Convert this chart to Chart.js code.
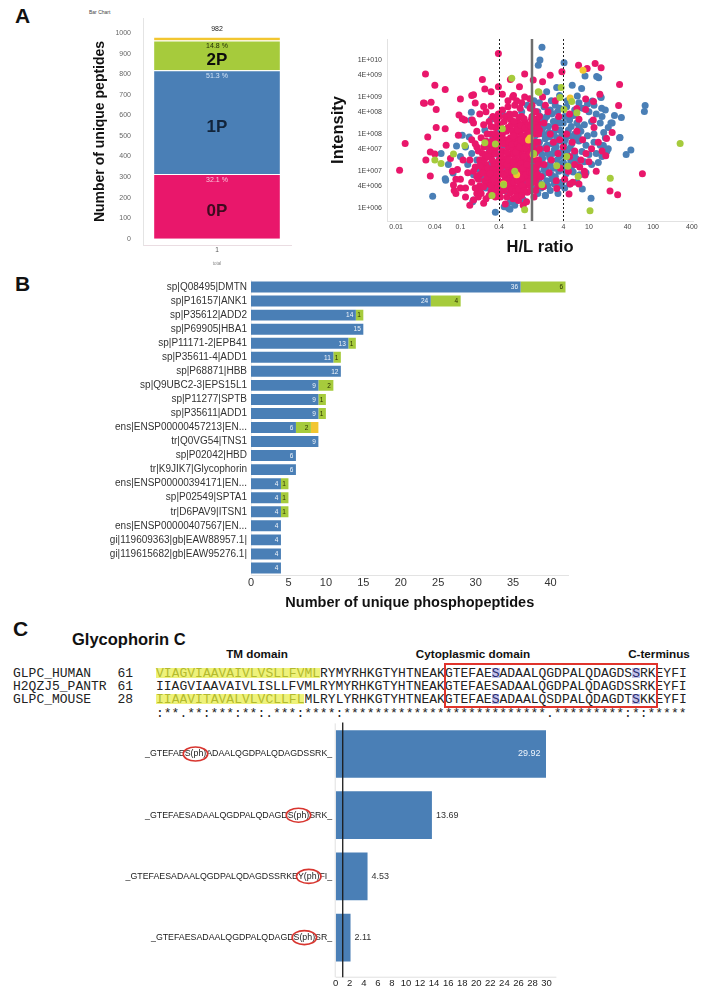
<!DOCTYPE html>
<html>
<head>
<meta charset="utf-8">
<script src="https://cdn.jsdelivr.net/npm/chart.js@4.4.0/dist/chart.umd.min.js"></script>
<style>
  body { margin: 0; width: 708px; height: 1001px; background: #fff; position: relative; overflow: hidden;
         font-family: "Liberation Sans", Arial, Helvetica, sans-serif; color: #111; }
  .abs { position: absolute; }
  canvas { display: block; position: absolute; }
  .panel { font-weight: bold; font-size: 21px; }
  .aln { font-family: "Liberation Mono", "Courier New", monospace; font-size: 13px; line-height: 13.3px; white-space: pre; color: #222; }
  .tm { color: #b3ba2e; background: linear-gradient(to bottom, transparent 2px, #eef27a 2px, #eef27a 12.5px, transparent 12.5px); }
  .site { color: #27286a; background: linear-gradient(to bottom, transparent 2px, #c3c3ea 2px, #c3c3ea 12.5px, transparent 12.5px); }
  .dom { font-weight: bold; font-size: 11.7px; transform: translateX(-50%); white-space: nowrap; }
</style>
</head>
<body>

<div class="abs panel" style="left:15px;top:4px">A</div>
<div class="abs panel" style="left:15px;top:272px">B</div>
<div class="abs panel" style="left:13px;top:617px">C</div>
<div class="abs" style="left:89px;top:9px;font-size:5px;color:#444">Bar Chart</div>

<canvas id="peptideBar" width="215" height="270" style="left:88px;top:0"></canvas>
<canvas id="ratioScatter" width="383" height="250" style="left:325px;top:20px"></canvas>
<canvas id="proteinBar" width="590" height="350" style="left:0;top:270px"></canvas>

<div class="abs" style="left:72px;top:630px;font-weight:bold;font-size:16.5px">Glycophorin C</div>
<div class="abs dom" style="left:257px;top:647px">TM domain</div>
<div class="abs dom" style="left:473px;top:647px">Cytoplasmic domain</div>
<div class="abs dom" style="left:659px;top:647px">C-terminus</div>
<div id="alignment"></div>
<div class="abs" style="left:444px;top:663px;width:214px;height:45px;border:2.5px solid #e0342c;box-sizing:border-box"></div>

<canvas id="siteBar" width="600" height="286" style="left:0;top:715px"></canvas>

<script>
// ---------- A: phospho-state counts ----------
const phosCats = ['0P', '1P', '2P', '3P'];
const phosCounts = [315, 504, 145, 18];
const phosPct = ['32.1 %', '51.3 %', '14.8 %', ''];
const totalPeptides = 982;
const countTicks = [0, 100, 200, 300, 400, 500, 600, 700, 800, 900, 1000];

// ---------- A: H/L ratio vs intensity ----------
const pinkPts = [
  [0.39,1.5e10],[0.0286,4.2e9],[0.04,2.1e9],[0.058,1.6e9],[0.0275,6.8e8],[0.035,7.2e8],[0.042,4.6e8],[0.1,8.9e8],
  [0.15,1.1e9],[0.22,3e9],[0.24,1.65e9],[0.3,1.4e9],[0.39,1.9e9],[0.6,3e9],[0.83,1.9e9],[1,4.2e9],[0.67,1.1e9],
  [1.36,2.9e9],[0.16,1.15e9],[0.17,6.9e8],[0.23,5.6e8],[0.3,5.7e8],[0.095,3.3e8],[0.117,2.4e8],[0.153,2.4e8],
  [0.107,2.6e8],[0.0266,6.9e8],[0.042,1.5e8],[0.058,1.4e8],[0.031,8.3e7],[0.0138,5.6e7],[0.0113,1.05e7],
  [0.034,3.3e7],[0.04,2.9e7],[0.029,2e7],[0.034,7.4e6],[0.093,9.3e7],[0.078,4.2e6],[0.085,2.5e6],[0.16,1.65e6],
  [0.23,1.35e6],[0.53,2e6],[1.07,1.5e6],
  [0.5,3e8],[0.6,2.5e8],[0.7,3.5e8],[0.8,2e8],[0.9,3e8],[1.0,2.2e8],[0.55,1.5e8],[0.65,1.2e8],[0.75,1.6e8],
  [0.85,1.1e8],[0.95,1.4e8],[1.1,1.2e8],[0.45,1e8],[0.5,7e7],[0.6,8e7],[0.7,6e7],[0.8,7.5e7],[0.9,5.5e7],
  [1.05,6.5e7],[1.2,8e7],[0.4,6e7],[0.35,4e7],[0.45,3.5e7],[0.55,4.5e7],[0.65,3.8e7],[0.75,4.2e7],[0.85,3.2e7],
  [0.95,4e7],[1.1,3.5e7],[1.3,4.5e7],[0.3,2.5e7],[0.4,2e7],[0.5,2.2e7],[0.6,1.8e7],[0.7,2.4e7],[0.8,1.9e7],
  [0.9,2.1e7],[1.0,1.7e7],[1.15,2.3e7],[0.25,1.5e7],[0.35,1.2e7],[0.45,1.4e7],[0.55,1.1e7],[0.65,1.3e7],
  [0.75,1e7],[0.85,1.2e7],[0.95,9e6],[1.1,1.1e7],[1.3,1.3e7],[0.2,8e6],[0.3,7e6],[0.4,8.5e6],[0.5,6.5e6],
  [0.6,7.5e6],[0.7,6e6],[0.8,7e6],[0.9,5.5e6],[1.05,6.5e6],[1.25,7e6],[0.15,5e6],[0.25,4.5e6],[0.35,4e6],
  [0.45,5e6],[0.55,3.8e6],[0.65,4.3e6],[0.75,3.5e6],[0.85,4.5e6],[1.0,3.8e6],[1.2,4.2e6],[0.2,3e6],[0.3,2.8e6],
  [0.4,2.5e6],[0.6,2.6e6],[0.8,2.4e6],[1.1,2.7e6],[0.12,3.5e6],[0.1,6e6],[0.13,9e6],[0.17,1.3e7],[0.2,2e7],
  [0.22,3e7],[0.18,4.5e7],[0.15,7e7],[0.25,6.5e7],[0.3,1e8],[0.35,1.5e8],[0.28,2.2e8],[0.4,3e8],[0.45,4.5e8],
  [0.55,5.5e8],[0.7,6e8],[0.85,5e8],[0.38,2e8],[0.09,1.1e7],[0.11,2e7],[0.08,3e6],[0.14,2e7],[0.65,9e6],
  [0.72,1.5e7],[0.58,2.8e7],[0.48,1.7e7],[0.42,1.05e7],[0.52,9e6],[0.62,5.5e6],[0.68,3e7],[0.78,2.8e7],
  [0.88,8.5e6],[0.98,1.4e7],[1.4,2e7],[1.5,9e6],[1.45,3e7],[0.06,5e7],[0.07,2.2e7],[0.075,1e7],[0.085,6e6],
  [0.1,3.5e6],[0.12,2e6],[0.14,1.2e6],[0.45,1.2e9],[0.55,8e8],[0.65,1e9],[0.75,8e8],[0.9,7e8],[1.0,1e9],
  [1.2,9e8],[1.3,6e8],[1.5,4e8],[1.6,2e8],[1.4,1e8],[1.6,6e7],[1.5,1.2e7],[1.6,4e6],[1.4,2e6],[0.8,1.6e6],
  [0.95,1.2e6],[0.5,1.3e6],[0.42,2e6],
  [0.42,1.6e8],[0.48,2.2e8],[0.52,1.2e8],[0.58,3.5e8],[0.62,1.8e8],[0.68,2.2e8],[0.72,1e8],[0.78,1.3e8],
  [0.82,2.8e8],[0.88,1.7e8],[0.92,9e7],[0.98,2.6e8],[1.02,1.5e8],[1.08,9e7],[1.15,1.8e8],[1.22,1.1e8],
  [1.28,2.5e8],[0.38,9e7],[0.43,7.5e7],[0.47,5.5e7],[0.53,3.2e7],[0.57,6e7],[0.63,5.2e7],[0.67,9e7],
  [0.73,3.3e7],[0.77,5.5e7],[0.83,4.5e7],[0.87,7e7],[0.93,2.7e7],[0.97,6e7],[1.03,4.2e7],[1.12,5.5e7],
  [1.18,2.8e7],[1.25,2e7],[0.33,3e7],[0.37,1.7e7],[0.43,2.6e7],[0.47,8e6],[0.53,1.5e7],[0.57,2e7],[0.63,9.5e6],
  [0.67,1.7e7],[0.73,8e6],[0.77,1.4e7],[0.83,9e6],[0.87,1.6e7],[0.93,1.2e7],[0.97,2.5e7],[1.03,8e6],
  [1.08,1.5e7],[1.2,9.5e6],[0.28,5e6],[0.33,9e6],[0.38,6e6],[0.43,4e6],[0.48,3e6],[0.53,5.5e6],[0.58,4.8e6],
  [0.63,3.2e6],[0.68,5e6],[0.72,2.8e6],[0.78,5.8e6],[0.82,3.2e6],[0.88,6.5e6],[0.92,4e6],[0.98,3e6],
  [1.15,5e6],[1.25,3e6],[0.26,1e7],[0.22,1.2e7],[0.19,6e6],[0.27,3e7],[0.32,5e7],[0.24,2.2e7],[0.2,4e6],
  [0.18,2.5e6],[0.35,2e6],[0.66,1.8e6],[0.74,2e6],[0.9,2.2e6],
  [0.16,2e8],[0.18,1.2e8],[0.2,3.5e8],[0.21,8e7],[0.23,1.8e8],[0.25,4e8],[0.26,1e8],[0.28,5.5e7],[0.3,1.6e8],
  [0.32,3e8],[0.34,7e7],[0.36,2.5e8],[0.38,4.5e7],[0.17,5.5e7],[0.19,3.5e7],[0.21,1.6e7],[0.23,4.5e7],
  [0.25,2.6e7],[0.27,1.2e7],[0.29,3.8e7],[0.31,6.5e7],[0.33,1.5e7],[0.35,3e7],[0.37,8e6],[0.39,1.4e7],
  [0.16,1e7],[0.18,7e6],[0.2,1.4e7],[0.22,9e6],[0.24,5.5e6],[0.26,7e6],[0.28,2.2e6],[0.3,4e6],[0.32,1.1e7],
  [0.34,3e6],[0.36,5e6],[0.38,3.5e6],[0.17,3.5e6],[0.19,2e6],[0.21,2.5e6],[0.23,3.8e6],[0.25,1.8e6],
  [0.27,2.5e7],[0.29,8.5e6],[0.31,2e7],[0.33,6e6],[0.35,1e8],[0.37,6e7],[0.39,3.5e8],
  [1.22,5e8],[1.3,3e8],[1.38,1.5e8],[1.45,6e7],[1.55,2.5e8],[1.65,1e8],[1.25,1.6e8],[1.35,5e7],[1.45,1.8e8],
  [1.55,3.5e7],[1.65,2e7],[1.3,2.5e7],[1.4,1.2e7],[1.5,6e6],[1.6,1.5e7],[1.28,9e6],[1.38,5e6],[1.48,3e6],
  [1.58,8e6],[1.7,1.3e8],[1.7,4e7],
  [6.9,7.2e9],[9.4,5.9e9],[12.5,8.1e9],[15.5,6.2e9],[3.8,4.8e9],[2.5,3.9e9],[1.9,2.6e9],[30,2.2e9],[14.8,1.2e9],
  [8.9,8.9e8],[29,5.9e8],[6.5,4.9e8],[11.7,2.4e8],[18.8,7.6e7],[18.3,2.6e7],[68,8.5e6],[21.3,2.9e6],[28,2.3e6],
  [4.9,2.4e6],[7.2,1.3e7],[8.7,7.8e6],[3.16,3.4e6],[1.95,3.8e6],[23,1.1e8],[5.1,4.5e6],[8.9,4.6e8],[11.8,7.6e8],
  [1.6,1.5e8],[2,2e8],[2.5,1e8],[3,1.5e8],[3.5,7e7],[4.5,1e8],[5.5,6e7],[6.5,1.2e8],[8,7e7],[2.2,4e7],[2.8,6e7],
  [3.3,3e7],[4,4.5e7],[5,2.5e7],[6,3.5e7],[7.5,2e7],[9,3e7],[2,1.5e7],[2.6,2e7],[3.6,1.2e7],[4.8,1e7],[6,1.5e7],
  [1.8,7e6],[2.4,9e6],[3.1,5.5e6],[4.2,6e6],[5.6,5e6],[1.7,3e8],[2.3,4e8],[3.4,3e8],[5,3.5e8],[7,2.5e8],
  [12,1.5e8],[14,6e7],[11,4e7],[10,1.8e7],[13,1e7],[8.5,1e7],[7,4.5e6],[16,3.5e7],[2.1,6e8],[1.9,1e9],[3,8e8]
];
const bluePts = [
  [1.86,2.2e10],[1.73,1e10],[1.63,7.2e9],[4.1,8.5e9],[8.7,3.7e9],[14.2,3.3e9],[13.2,3.6e9],[5.5,2.1e9],[3.15,1.8e9],
  [2.2,1.4e9],[6.6,1.07e9],[7.7,1.7e9],[11.3,7.8e8],[15.3,1e9],[75,5.9e8],[73,4.1e8],[22,2e8],[25,3.2e8],[32,2.8e8],
  [30,8e7],[45,3.7e7],[38,2.8e7],[7.9,3.3e6],[10.8,1.85e6],[2.1,2.2e6],[0.35,7.8e5],[0.59,9.3e5],[0.48,1.1e6],
  [0.037,2.1e6],[0.059,5.7e6],[0.155,1.5e6],[0.087,4.8e7],[0.05,3e7],[0.148,3.9e8],[0.107,9.3e7],[0.137,8.4e7],
  [0.146,2.4e8],[0.058,6.2e6],[0.065,1.5e7],[0.077,8.9e6],[0.16,1.65e6],[0.56,1e6],[15.5,9.8e8],[15.8,5e8],
  [16.8,4.9e7],[19,3.4e7],[23,2e8],[30.5,8.1e7],
  [1.3,5e8],[1.6,4e8],[2,5.5e8],[2.5,4.5e8],[3,6e8],[3.5,5e8],[4.5,5.5e8],[6,4.5e8],[8,5e8],[10,4e8],[13,3.5e8],
  [1.4,2.5e8],[1.8,2e8],[2.2,3e8],[2.8,2.2e8],[3.3,2.6e8],[4,2e8],[5,2.4e8],[6.5,2e8],[8.5,1.8e8],[11,2.2e8],
  [15,2e8],[1.5,1.2e8],[1.9,1.4e8],[2.4,1.1e8],[3,1.3e8],[3.8,1e8],[4.8,1.3e8],[6,1e8],[7.5,1.2e8],[9.5,9e7],
  [12,1e8],[17,1.1e8],[1.3,7e7],[1.7,6e7],[2.1,7.5e7],[2.7,5.5e7],[3.4,6.5e7],[4.3,7e7],[5.4,5.5e7],[7,6.5e7],
  [9,5e7],[12,6e7],[15,5e7],[1.4,3.5e7],[1.8,4e7],[2.3,3e7],[2.9,3.8e7],[3.7,3.2e7],[4.6,3.6e7],[6,3e7],
  [7.8,3.4e7],[10,2.8e7],[13,3e7],[1.5,1.8e7],[1.9,2.2e7],[2.5,1.6e7],[3.2,2e7],[4,1.7e7],[5.2,2e7],[6.6,1.5e7],
  [8.5,1.8e7],[11,1.5e7],[14,1.7e7],[1.6,9e6],[2,1.1e7],[2.6,8e6],[3.4,1e7],[4.4,8.5e6],[5.7,9.5e6],[7.2,8e6],
  [9,9e6],[1.7,5e6],[2.2,5.5e6],[2.9,4.5e6],[3.8,5e6],[5,4.5e6],[6.5,5e6],[2.5,3e6],[3.3,2.5e6],[1.25,1.5e8],
  [1.2,3e7],[1.15,1e7],[1.3,3.5e6],[0.9,4e8],[1.1,6e8],[1.4,8e8],[1.7,7e8],[2.6,8e8],[3.5,1.1e9],[4.6,8e8],
  [7,7e8],[9.5,6.5e8],[12,6e8],[18,4.5e8],[16,3e8],[20,1.5e8],[18,8e7],[20,4e7],[16,2.5e7],
  [1.45,4e8],[1.75,3e8],[2.05,2.5e8],[2.35,1.6e8],[2.65,3.5e8],[2.95,1.8e8],[3.25,4e8],[3.6,2e8],[4.2,3e8],
  [5.3,1.6e8],[5.8,3.2e8],[7,1.5e8],[1.45,9e7],[1.65,1.7e8],[1.95,1e8],[2.25,5e7],[2.45,8.5e7],[2.85,1e8],
  [3.15,8e7],[3.55,1.3e8],[4.1,5.5e7],[4.9,9e7],[5.8,7e7],[6.8,9e7],[1.55,5e7],[1.85,2.8e7],[2.15,4.5e7],
  [2.45,2.3e7],[2.75,3e7],[3.1,4.5e7],[3.5,2.5e7],[4.3,2.6e7],[5.1,4.2e7],[5.5,1.4e7],[6.3,2.2e7],[1.5,1.2e7],
  [1.75,1.5e7],[2.2,1.3e7],[2.35,9e6],[2.8,1.2e7],[3,7e6],[3.6,1.5e7],[4.1,1.1e7],[4.7,1.4e7],[1.55,6e6],
  [1.9,7.5e6],[2.3,4e6],[2.7,6e6],[3.5,4e6],[4.2,3.5e6],[1.8,3.5e6],[1.6,2.5e6],[2.1,2.2e6],[1.35,1.8e7],
  [1.25,6e7],[1.35,2e8],
  [0.12,4.5e7],[0.15,3e7],[0.18,2e7],[0.2,1.1e7],[0.22,6e6],[0.25,3.5e6],[0.3,1.6e7],[0.35,5.5e6],[0.28,4e7],
  [0.32,8e7],[0.4,1.2e8],[0.45,4e8],[0.5,5e7],[0.55,2.5e6],[0.6,1.5e6],[0.7,1.2e6],[0.45,3e6],[0.42,4.5e7],
  [0.5,1.3e7],[0.38,2.8e7],[0.16,8e6],[0.13,1.5e7],[0.1,2.5e7],[0.24,1.3e8],[0.3,2.5e8],[0.65,1.8e7],
  [0.85,2.2e6],[0.95,1.7e6],[1.0,5e6]
];
const greenPts = [
  [1.67,1.35e9],[3.7,1.8e9],[3.55,9.8e8],[4.1,4.6e8],[6.5,3.8e8],[5.4,7.6e8],[263,5.6e7],[21.5,6.4e6],[10.4,8.5e5],
  [3.16,1.4e7],[4.7,1.35e7],[1.85,4.3e6],[6.8,7.2e6],[0.63,3.2e9],[1.63,1.4e9],[0.45,1.4e8],[0.35,5.4e7],
  [0.24,5.8e7],[0.117,4.9e7],[0.078,2.9e7],[0.05,1.6e7],[0.04,2e7],[0.31,2.2e6],[1.0,9.1e5],[0.7,1e7],
  [0.47,4.3e6],[1.38,3e7],[4.5,2.5e7]
];
const yellowPts = [
  [8.1,5.3e9],[5.1,9.4e8],[1.21,7.8e7],[1.36,2.8e7],[0.47,4.5e6],[0.75,8e6],[1.15,6.9e7]
];
const ratioTicks = [0.01, 0.04, 0.1, 0.4, 1, 4, 10, 40, 100, 400];
const ratioTickText = ['0.01', '0.04', '0.1', '0.4', '1', '4', '10', '40', '100', '400'];
const intensityTicks = [1e6, 4e6, 1e7, 4e7, 1e8, 4e8, 1e9, 4e9, 1e10];
const intensityTickText = ['1E+006', '4E+006', '1E+007', '4E+007', '1E+008', '4E+008', '1E+009', '4E+009', '1E+010'];
const cutoffRatios = [0.4, 4];
const medianRatio = 1.3;

// ---------- B: phosphopeptides per protein ----------
const proteins = [
  'sp|Q08495|DMTN', 'sp|P16157|ANK1', 'sp|P35612|ADD2', 'sp|P69905|HBA1', 'sp|P11171-2|EPB41',
  'sp|P35611-4|ADD1', 'sp|P68871|HBB', 'sp|Q9UBC2-3|EPS15L1', 'sp|P11277|SPTB', 'sp|P35611|ADD1',
  'ens|ENSP00000457213|EN...', 'tr|Q0VG54|TNS1', 'sp|P02042|HBD', 'tr|K9JIK7|Glycophorin',
  'ens|ENSP00000394171|EN...', 'sp|P02549|SPTA1', 'tr|D6PAV9|ITSN1', 'ens|ENSP00000407567|EN...',
  'gi|119609363|gb|EAW88957.1|', 'gi|119615682|gb|EAW95276.1|', ''
];
const pep1P = [36, 24, 14, 15, 13, 11, 12, 9, 9, 9, 6, 9, 6, 6, 4, 4, 4, 4, 4, 4, 4];
const pep2P = [6, 4, 1, 0, 1, 1, 0, 2, 1, 1, 2, 0, 0, 0, 1, 1, 1, 0, 0, 0, 0];
const pep3P = [0, 0, 0, 0, 0, 0, 0, 0, 0, 0, 1, 0, 0, 0, 0, 0, 0, 0, 0, 0, 0];
const pepTicks = [0, 5, 10, 15, 20, 25, 30, 35, 40];

// ---------- C: Glycophorin C alignment and sites ----------
const alnNames = ['GLPC_HUMAN', 'H2QZJ5_PANTR', 'GLPC_MOUSE'];
const alnStart = ['61', '61', '28'];
const alnSeqs = [
  'VIAGVIAAVAIVLVSLLFVMLRYMYRHKGTYHTNEAKGTEFAESADAALQGDPALQDAGDSSRKEYFI',
  'IIAGVIAAVAIVLISLLFVMLRYMYRHKGTYHTNEAKGTEFAESADAALQGDPALQDAGDSSRKEYFI',
  'IIAAVITAVALVLVCLLFLMLRYLYRHKGTYHTNEAKGTEFAESADAALQSDPALQDAGDTSKKEYFI'
];
const alnConsensus = ':**.**:***:**:.***:****:**' + '************************' + '.' + '*********' + ':*:' + '*****';
const tmLength = [21, 0, 19];
const siteCols = [[43, 61], [], [43, 61]];

const peptidePre = ['_GTEFAE', '_GTEFAESADAALQGDPALQDAGD', '_GTEFAESADAALQGDPALQDAGDSSRKE', '_GTEFAESADAALQGDPALQDAGD'];
const peptideSite = ['S(ph)', 'S(ph)', 'Y(ph)', 'S(ph)'];
const peptidePost = ['ADAALQGDPALQDAGDSSRK_', 'SRK_', 'FI_', 'SR_'];
const ratioHL = [29.92, 13.69, 4.53, 2.11];
const ratioHLTicks = [0, 2, 4, 6, 8, 10, 12, 14, 16, 18, 20, 22, 24, 26, 28, 30];

const pink = '#e9176b', blue = '#4a7fb6', green = '#a6cb3c', yellow = '#f2c630';

Chart.defaults.font.family = '"Liberation Sans", Arial, Helvetica, sans-serif';
Chart.defaults.color = '#333';
Chart.defaults.animation = false;
Chart.defaults.plugins.legend.display = false;
Chart.defaults.plugins.tooltip.enabled = false;

// alignment text
(function () {
  const box = document.getElementById('alignment');
  let html = '';
  const rows = alnSeqs.length + 1;
  for (let r = 0; r < rows; r++) {
    const top = 666.7 + r * 13.3;
    if (r < alnSeqs.length) {
      html += '<div class="abs aln" style="left:13px;top:' + top + 'px">' + alnNames[r] + '</div>';
      html += '<div class="abs aln" style="left:117.5px;top:' + top + 'px">' + alnStart[r] + '</div>';
      let s = '';
      const seq = alnSeqs[r];
      for (let i = 0; i < seq.length; i++) {
        if (i < tmLength[r]) s += '<span class="tm">' + seq[i] + '</span>';
        else if (siteCols[r].includes(i)) s += '<span class="site">' + seq[i] + '</span>';
        else s += seq[i];
      }
      html += '<div class="abs aln" style="left:156px;top:' + top + 'px">' + s + '</div>';
    } else {
      html += '<div class="abs aln" style="left:156px;top:' + top + 'px">' + alnConsensus + '</div>';
    }
  }
  box.innerHTML = html;
})();

// labels inside the stacked bar
const stackLabels = {
  id: 'stackLabels',
  afterDatasetsDraw(chart) {
    const ctx = chart.ctx;
    const pctColors = ['#fbc4da', '#d3e3f5', '#1f2a05', '#000'];
    const bigColors = ['#3f0a1f', '#12243a', '#0d0d0d', '#000'];
    ctx.save();
    ctx.textAlign = 'center';
    ctx.textBaseline = 'middle';
    chart.data.datasets.forEach((ds, i) => {
      const bar = chart.getDatasetMeta(i).data[0];
      if (!phosPct[i]) return;
      ctx.font = '7px "Liberation Sans", Arial, sans-serif';
      ctx.fillStyle = pctColors[i];
      ctx.fillText(phosPct[i], bar.x, bar.y + 6);
      ctx.font = 'bold 17px "Liberation Sans", Arial, sans-serif';
      ctx.fillStyle = bigColors[i];
      ctx.fillText(phosCats[i], bar.x, (bar.y + 10 + bar.base) / 2);
    });
    const last = chart.getDatasetMeta(chart.data.datasets.length - 1).data[0];
    ctx.font = '7px "Liberation Sans", Arial, sans-serif';
    ctx.fillStyle = '#222';
    ctx.fillText(String(totalPeptides), last.x, last.y - 7.5);
    ctx.restore();
  }
};

new Chart(document.getElementById('peptideBar'), {
  type: 'bar',
  data: {
    labels: ['1'],
    datasets: phosCats.map((c, i) => ({
      label: c,
      data: [phosCounts[i]],
      backgroundColor: [pink, blue, green, yellow][i],
      borderColor: 'rgba(255,255,255,0.6)',
      borderWidth: {top: 1, left: 0, right: 0, bottom: 0},
      barPercentage: 0.85,
      categoryPercentage: 1
    }))
  },
  options: {
    responsive: false,
    layout: {padding: {top: 18, right: 12, left: 0, bottom: 0}},
    scales: {
      x: {
        stacked: true,
        grid: {display: false, drawTicks: false},
        border: {color: '#eadde2'},
        ticks: {font: {size: 6.5}, color: '#555', padding: 1},
        title: {display: true, text: 'total', font: {size: 4.5}, color: '#888', padding: {top: 2, bottom: 4}},
        afterFit: s => { s.height = 25; }
      },
      y: {
        stacked: true, min: -30, max: 1073,
        grid: {display: false, drawTicks: false},
        border: {color: '#e4e4e4'},
        afterBuildTicks: s => { s.ticks = countTicks.map(v => ({value: v})); },
        ticks: {font: {size: 7}, color: '#666', padding: 12, callback: v => String(v)},
        title: {display: true, text: 'Number of unique peptides', font: {size: 14, weight: 'bold'}, color: '#111'},
        afterFit: s => { s.width = 55; }
      }
    }
  },
  plugins: [stackLabels]
});

// ratio cut-off lines
const ratioLines = {
  id: 'ratioLines',
  afterDatasetsDraw(chart) {
    const {ctx, chartArea: a, scales: {x}} = chart;
    ctx.save();
    ctx.strokeStyle = '#222';
    ctx.lineWidth = 1;
    ctx.setLineDash([2, 2]);
    cutoffRatios.forEach(v => {
      const px = Math.round(x.getPixelForValue(v)) + 0.5;
      ctx.beginPath(); ctx.moveTo(px, a.top); ctx.lineTo(px, a.bottom); ctx.stroke();
    });
    ctx.setLineDash([]);
    ctx.strokeStyle = '#6e6e6e';
    ctx.lineWidth = 2.5;
    const m = x.getPixelForValue(medianRatio);
    ctx.beginPath(); ctx.moveTo(m, a.top); ctx.lineTo(m, a.bottom); ctx.stroke();
    ctx.restore();
  }
};

const toXY = arr => arr.map(p => ({x: p[0], y: p[1]}));
new Chart(document.getElementById('ratioScatter'), {
  type: 'scatter',
  data: {
    datasets: [
      {label: '2P', data: toXY(greenPts), backgroundColor: green},
      {label: '3P', data: toXY(yellowPts), backgroundColor: yellow},
      {label: '0P', data: toXY(pinkPts), backgroundColor: pink},
      {label: '1P', data: toXY(bluePts), backgroundColor: blue}
    ]
  },
  options: {
    responsive: false,
    layout: {padding: {top: 19, right: 15, bottom: 9, left: 0}},
    elements: {point: {radius: 3.5, borderWidth: 0, hoverRadius: 3.5}},
    scales: {
      x: {
        type: 'logarithmic', min: 0.0072, max: 417,
        grid: {display: false, drawTicks: false},
        border: {color: '#e2e2e2'},
        afterBuildTicks: s => { s.ticks = ratioTicks.map(v => ({value: v})); },
        ticks: {font: {size: 7}, color: '#444', padding: 2, autoSkip: false, maxRotation: 0,
                callback: (v, i) => ratioTickText[i]},
        title: {display: true, text: 'H/L ratio', font: {size: 16.5, weight: 'bold'}, color: '#111', padding: {top: 4, bottom: 4}},
        afterFit: s => { s.height = 40; }
      },
      y: {
        type: 'logarithmic', min: 4.5e5, max: 3.7e10,
        grid: {display: false, drawTicks: false},
        border: {color: '#e2e2e2'},
        afterBuildTicks: s => { s.ticks = intensityTicks.map(v => ({value: v})); },
        ticks: {font: {size: 7}, color: '#444', padding: 5, autoSkip: false,
                callback: (v, i) => intensityTickText[i]},
        title: {display: true, text: 'Intensity', font: {size: 16.5, weight: 'bold'}, color: '#111'},
        afterFit: s => { s.width = 62; }
      }
    }
  },
  plugins: [ratioLines]
});

// segment value labels for panel B
const segLabels = {
  id: 'segLabels',
  afterDatasetsDraw(chart) {
    const ctx = chart.ctx;
    ctx.save();
    ctx.font = '6.5px "Liberation Sans", Arial, sans-serif';
    ctx.textAlign = 'right';
    ctx.textBaseline = 'middle';
    [0, 1].forEach(i => {
      const ds = chart.data.datasets[i];
      chart.getDatasetMeta(i).data.forEach((bar, j) => {
        const v = ds.data[j];
        if (!v || bar.x >= chart.chartArea.right - 1) return;
        ctx.fillStyle = i === 0 ? '#f2f6fb' : '#2b3300';
        ctx.fillText(String(v), bar.x - 2.5, bar.y + 0.5);
      });
    });
    ctx.restore();
  }
};

new Chart(document.getElementById('proteinBar'), {
  type: 'bar',
  data: {
    labels: proteins,
    datasets: [
      {label: '1P', data: pep1P, backgroundColor: blue},
      {label: '2P', data: pep2P, backgroundColor: green},
      {label: '3P', data: pep3P, backgroundColor: yellow}
    ]
  },
  options: {
    indexAxis: 'y',
    responsive: false,
    layout: {padding: {top: 10, right: 21.5, bottom: 0, left: 0}},
    datasets: {bar: {barPercentage: 0.78, categoryPercentage: 1}},
    scales: {
      x: {
        stacked: true, min: 0, max: 42.4,
        grid: {display: false, drawTicks: false},
        border: {color: '#e3e3e3'},
        afterBuildTicks: s => { s.ticks = pepTicks.map(v => ({value: v})); },
        ticks: {font: {size: 11}, color: '#333', padding: 1},
        title: {display: true, text: 'Number of unique phosphopeptides', font: {size: 14.5, weight: 'bold'}, color: '#111', padding: {top: 4, bottom: 8}},
        afterFit: s => { s.height = 45; }
      },
      y: {
        stacked: true,
        grid: {display: false, drawTicks: false},
        border: {color: '#eeeeee'},
        ticks: {font: {size: 10}, color: '#333', padding: 4, autoSkip: false},
        afterFit: s => { s.width = 251; }
      }
    }
  },
  plugins: [segLabels]
});

// peptide labels, ellipses, values and ratio-1 line for panel C
const peptideDecor = {
  id: 'peptideDecor',
  afterDraw(chart) {
    const {ctx, chartArea: a, scales: {x, y}} = chart;
    ctx.save();
    ctx.textBaseline = 'middle';
    const bars = chart.getDatasetMeta(0).data;
    const maxV = Math.max(...ratioHL);
    peptidePre.forEach((pre, i) => {
      const py = y.getPixelForTick(i);
      const right = a.left - 3.5;
      ctx.font = '8.8px "Liberation Sans", Arial, sans-serif';
      const wPost = ctx.measureText(peptidePost[i]).width;
      const wSite = ctx.measureText(peptideSite[i]).width;
      ctx.textAlign = 'right';
      ctx.fillStyle = '#1a1a1a';
      ctx.fillText(pre + peptideSite[i] + peptidePost[i], right, py);
      ctx.beginPath();
      ctx.ellipse(right - wPost - wSite / 2, py, wSite / 2 + 1.5, 7, 0, 0, Math.PI * 2);
      ctx.strokeStyle = '#d8352f';
      ctx.lineWidth = 1.6;
      ctx.stroke();

      const bar = bars[i];
      ctx.font = '9px "Liberation Sans", Arial, sans-serif';
      const txt = ratioHL[i].toFixed(2);
      if (ratioHL[i] === maxV) {
        ctx.textAlign = 'right';
        ctx.fillStyle = '#eef4fb';
        ctx.fillText(txt, bar.x - 5.5, py);
      } else {
        ctx.textAlign = 'left';
        ctx.fillStyle = '#333';
        ctx.fillText(txt, bar.x + 4, py);
      }
    });
    ctx.strokeStyle = '#e0e0e0';
    ctx.lineWidth = 1;
    ctx.beginPath();
    ctx.moveTo(a.left, a.bottom + 9); ctx.lineTo(a.right, a.bottom + 9);
    ctx.moveTo(a.left - 0.5, a.top); ctx.lineTo(a.left - 0.5, a.bottom + 9);
    ctx.stroke();
    const px = x.getPixelForValue(1);
    ctx.strokeStyle = '#1a1a1a';
    ctx.lineWidth = 1.3;
    ctx.beginPath(); ctx.moveTo(px, a.top - 1); ctx.lineTo(px, a.bottom + 9); ctx.stroke();
    ctx.restore();
  }
};

new Chart(document.getElementById('siteBar'), {
  type: 'bar',
  data: {
    labels: peptidePre.map((p, i) => p + peptideSite[i] + peptidePost[i]),
    datasets: [{label: 'H/L', data: ratioHL, backgroundColor: blue, barPercentage: 0.78, categoryPercentage: 1}]
  },
  options: {
    indexAxis: 'y',
    responsive: false,
    layout: {padding: {top: 8.4, right: 43.6, bottom: 0, left: 0}},
    scales: {
      x: {
        min: 0, max: 31.4,
        grid: {display: false, drawTicks: false},
        border: {display: false},
        afterBuildTicks: s => { s.ticks = ratioHLTicks.map(v => ({value: v})); },
        ticks: {font: {size: 9.5}, color: '#222', padding: 9, autoSkip: false, maxRotation: 0},
        afterFit: s => { s.height = 32.8; }
      },
      y: {
        grid: {display: false, drawTicks: false},
        border: {display: false},
        ticks: {display: false},
        afterFit: s => { s.width = 335.7; }
      }
    }
  },
  plugins: [peptideDecor]
});
</script>
</body>
</html>
